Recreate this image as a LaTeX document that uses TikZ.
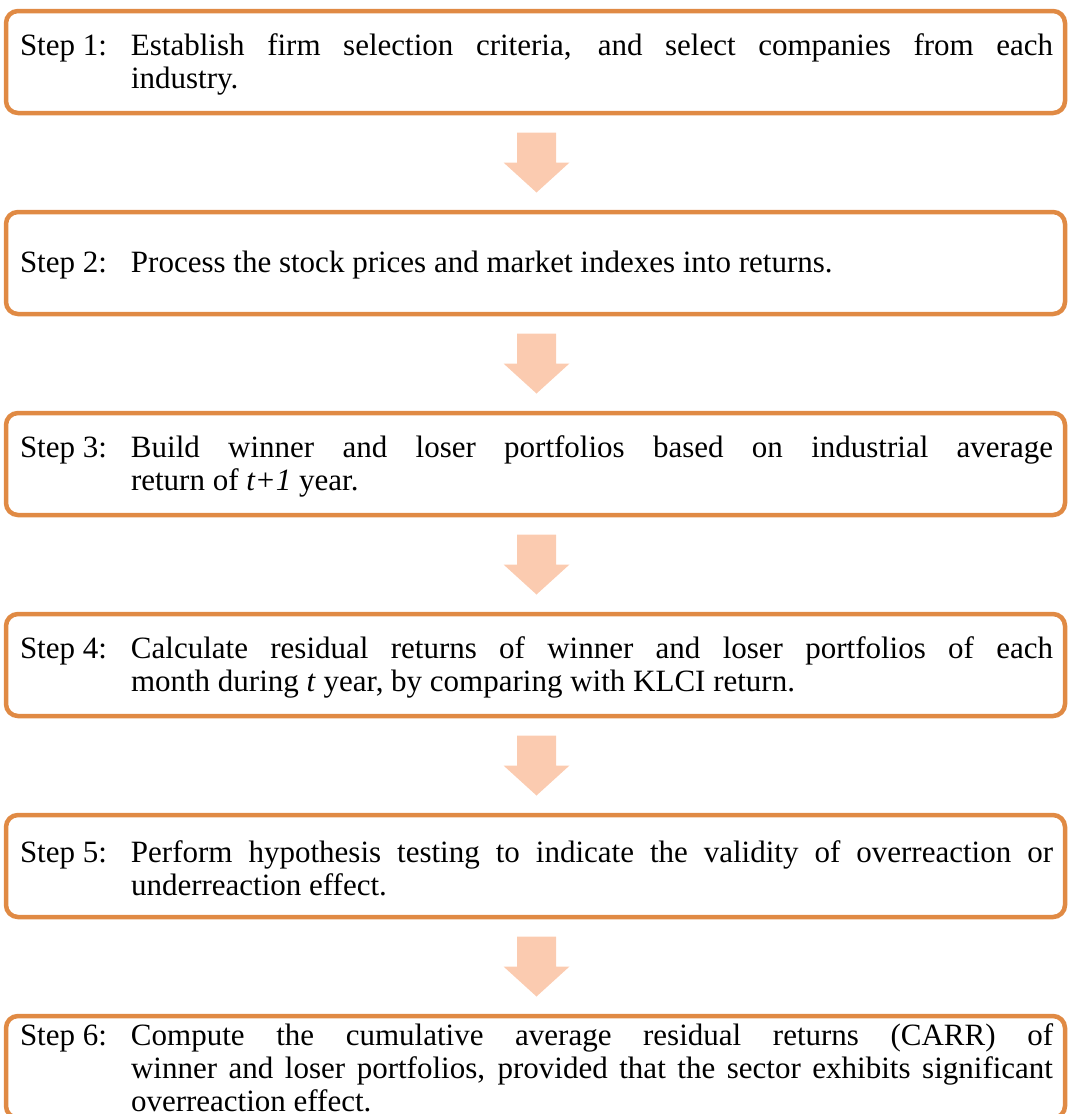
\documentclass[tikz,border=0pt]{standalone}
\usepackage{fontspec}
\setmainfont{Liberation Serif}
\usetikzlibrary{positioning, calc}

\definecolor{boxorange}{RGB}{224,138,68}
\definecolor{arrowpeach}{RGB}{251,203,176}

\tikzset{
  stepbox/.style={draw=boxorange, line width=4.5pt, rounded corners=12pt,
    minimum width=1059pt, minimum height=102pt, inner sep=0pt, outer sep=0pt},
  steptext/.style={text width=1033pt, inner sep=0pt, align=justify,
    font=\fontsize{31}{33}\selectfont}
}
\newcommand{\stepline}[2]{\makebox[111pt][l]{Step #1:}\parbox[t]{922pt}{\rightskip=0pt\hyphenpenalty=10000 #2}}

\begin{document}
\begin{tikzpicture}[x=1pt, y=1pt, node distance=99pt]
  \useasboundingbox (0,0) rectangle (1068,-1114);
  \node[stepbox] (b1) at (535.5,-62) {};
  \node[stepbox, below=of b1] (b2) {};
  \node[stepbox, below=of b2] (b3) {};
  \node[stepbox, below=of b3] (b4) {};
  \node[stepbox, below=of b4] (b5) {};
  \node[stepbox, below=of b5] (b6) {};
  \node[steptext] (t1) at ([xshift=1pt, yshift=-2pt]b1.center) {\stepline{1}{Establish firm selection criteria, and select companies from each\linebreak industry.}};
  \node[steptext] (t2) at ([xshift=1pt, yshift=-2pt]b2.center) {\stepline{2}{Process the stock prices and market indexes into returns.}};
  \node[steptext] (t3) at ([xshift=1pt, yshift=-2pt]b3.center) {\stepline{3}{Build winner and loser portfolios based on industrial average\linebreak return of \textit{t+1} year.}};
  \node[steptext] (t4) at ([xshift=1pt, yshift=-2pt]b4.center) {\stepline{4}{Calculate residual returns of winner and loser portfolios of each\linebreak month during \textit{t} year, by comparing with KLCI return.}};
  \node[steptext] (t5) at ([xshift=1pt, yshift=-2pt]b5.center) {\stepline{5}{Perform hypothesis testing to indicate the validity of overreaction or\linebreak underreaction effect.}};
  \node[steptext] (t6) at ([xshift=1pt, yshift=-1pt]b6.center) {\stepline{6}{Compute the cumulative average residual returns (CARR) of\linebreak winner and loser portfolios, provided that the sector exhibits significant\linebreak overreaction effect.}};
  \foreach \i/\j in {1/2, 2/3, 3/4, 4/5, 5/6} {
    \coordinate (m\i) at ($(b\i.south)!0.5!(b\j.north)+(1,0)$);
    \fill[arrowpeach] ($(m\i)+(-19.5,30)$) -- ++(39,0) -- ++(0,-30) -- ++(13.5,0)
      -- ($(m\i)+(0,-30)$) -- ($(m\i)+(-33,0)$) -- ++(13.5,0) -- cycle;
  }
\end{tikzpicture}
\end{document}
